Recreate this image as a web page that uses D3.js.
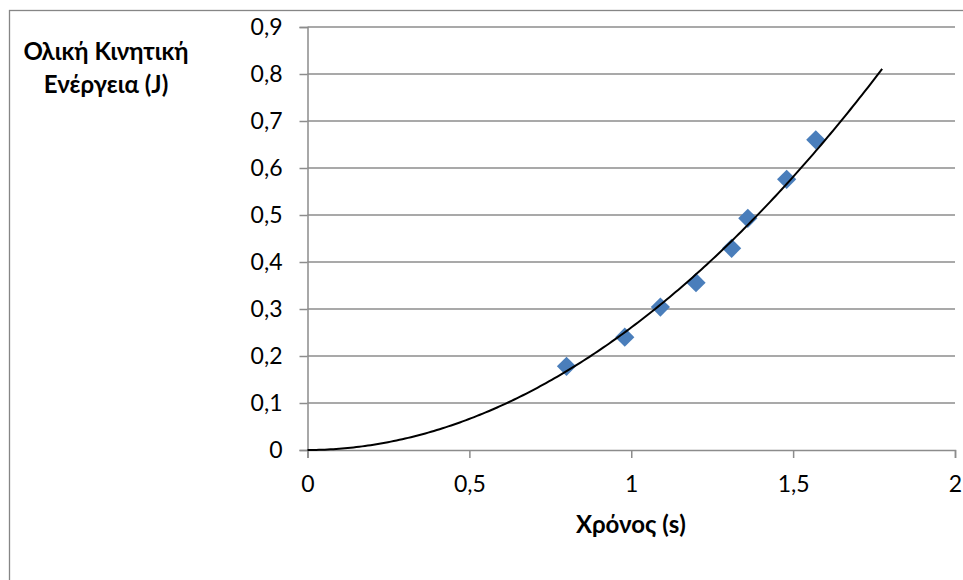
<!DOCTYPE html>
<html>
<head>
<meta charset="utf-8">
<script src="https://cdn.jsdelivr.net/npm/d3@7"></script>
<style>
  body { margin: 0; background: #fff; }
  text { font-family: Lato, "Open Sans", sans-serif; fill: #000; }
</style>
</head>
<body>
<div id="container"></div>
<script>
let w = 963;
let h = 580;

// measured points
const timeS   = [0.80, 0.98, 1.09, 1.20, 1.31, 1.36, 1.48, 1.57];
const energyJ = [0.178, 0.240, 0.304, 0.356, 0.429, 0.493, 0.576, 0.660];

const xTicks = [0, 0.5, 1, 1.5, 2];
const yTicks = [0, 0.1, 0.2, 0.3, 0.4, 0.5, 0.6, 0.7, 0.8, 0.9];
const trendRange = [0, 1.775];   // where the trendline is drawn

const yTitle = ["Ολική Κινητική", "Ενέργεια (J)"];
const xTitle = "Χρόνος (s)";

let viz = d3.select("#container")
  .append("svg")
    .attr("width", w)
    .attr("height", h);

// outer chart frame (runs off the right / bottom of the window)
viz.append("rect")
  .attr("x", 9.5).attr("y", 10.5)
  .attr("width", 1000).attr("height", 1000)
  .attr("fill", "#fff")
  .attr("stroke", "#868686")
  .attr("stroke-width", 1.3);

let xScale = d3.scaleLinear().domain([0, 2]).range([307.5, 955]);
let yScale = d3.scaleLinear().domain([0, 0.9]).range([450, 27]);

let fmt = d => String(d).replace(".", ",");

// gridlines
viz.append("g").attr("class", "grid")
  .selectAll("line").data(yTicks.slice(1)).enter()
  .append("line")
    .attr("x1", xScale(0)).attr("x2", xScale(2))
    .attr("y1", d => yScale(d)).attr("y2", d => yScale(d))
    .attr("stroke", "#8c8c8c")
    .attr("stroke-width", 1.5);

// x axis
let xAxis = d3.axisBottom(xScale).tickValues(xTicks).tickFormat(fmt)
  .tickSizeOuter(0).tickSize(8).tickPadding(18);
let xAxisGroup = viz.append("g").attr("class", "xaxis")
  .attr("transform", "translate(0," + yScale(0) + ")")
  .call(xAxis);

// y axis
let yAxis = d3.axisLeft(yScale).tickValues(yTicks).tickFormat(fmt)
  .tickSizeOuter(0).tickSize(8).tickPadding(17);
let yAxisGroup = viz.append("g").attr("class", "yaxis")
  .attr("transform", "translate(" + xScale(0) + ",0)")
  .call(yAxis);

viz.selectAll(".xaxis path, .yaxis path, .xaxis line, .yaxis line")
  .attr("stroke", "#8c8c8c").attr("stroke-width", 1.5);
viz.selectAll(".xaxis text, .yaxis text")
  .style("font-family", "Lato, 'Open Sans', sans-serif")
  .style("font-size", "23px")
  .attr("fill", "#000");

// power trendline y = a*x^b fitted in log space (like the spreadsheet)
let lx = timeS.map(Math.log), ly = energyJ.map(Math.log);
let mx = d3.mean(lx), my = d3.mean(ly);
let b = d3.sum(lx, (v, i) => (v - mx) * (ly[i] - my)) / d3.sum(lx, v => (v - mx) * (v - mx));
let a = Math.exp(my - b * mx);
let trend = d3.range(0, 201).map(i => {
  let t = trendRange[0] + (trendRange[1] - trendRange[0]) * i / 200;
  return [t, a * Math.pow(t, b)];
});

// points
viz.append("g").attr("class", "points")
  .selectAll("path").data(timeS).enter()
  .append("path")
    .attr("d", d3.symbol().type(d3.symbolSquare).size(185))
    .attr("transform", (d, i) => "translate(" + xScale(d) + "," + yScale(energyJ[i]) + ") rotate(45)")
    .attr("fill", "#4a7ebb");

viz.append("path")
  .datum(trend)
  .attr("d", d3.line().x(d => xScale(d[0])).y(d => yScale(d[1])))
  .attr("fill", "none")
  .attr("stroke", "#000")
  .attr("stroke-width", 2);

// titles
viz.append("text")
  .attr("x", 106).attr("y", 60)
  .attr("text-anchor", "middle")
  .style("font-weight", "bold").style("font-size", "24px")
  .selectAll("tspan").data(yTitle).enter()
  .append("tspan")
    .attr("x", 106)
    .attr("dy", (d, i) => i === 0 ? 0 : 33)
    .text(d => d);

viz.append("text")
  .attr("x", 631).attr("y", 533)
  .attr("text-anchor", "middle")
  .style("font-weight", "bold").style("font-size", "24px")
  .text(xTitle);
</script>
</body>
</html>
